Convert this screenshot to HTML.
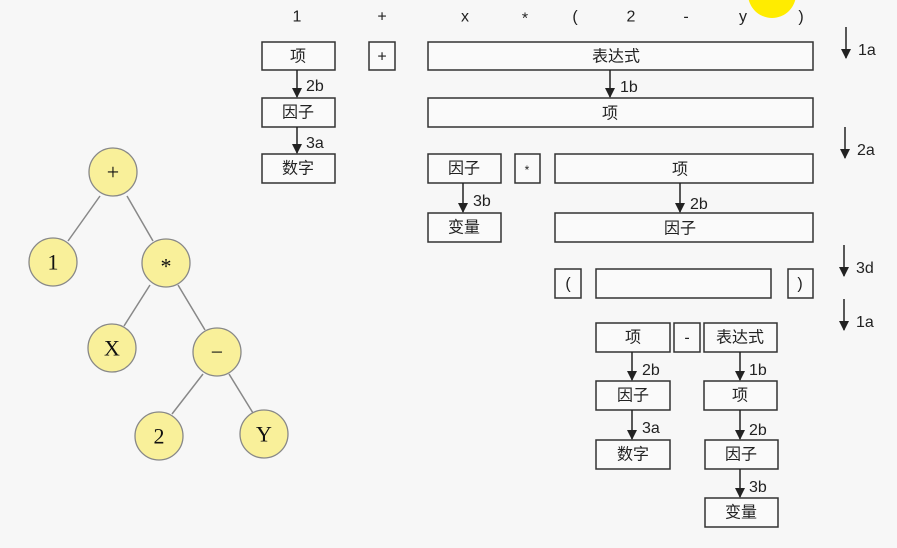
<!DOCTYPE html>
<html><head><meta charset="utf-8"><style>
body{margin:0;width:897px;height:548px;background:#f7f7f7;overflow:hidden}
svg{display:block}
text{font-family:"Liberation Sans","Noto Sans CJK SC",sans-serif;font-size:16px;fill:#222}
.b{fill:#fafafa;stroke:#333;stroke-width:1.5}
.t{text-anchor:middle;dominant-baseline:central}
.c{fill:#f9f09a;stroke:#888;stroke-width:1.3}
.ct{font-family:"Liberation Serif",serif;font-size:22px;text-anchor:middle;dominant-baseline:central;fill:#111}
.l{stroke:#888;stroke-width:1.5}
</style></head><body>
<svg width="897" height="548" viewBox="0 0 897 548">
<defs><marker id="a" markerWidth="10" markerHeight="10" refX="9" refY="5" orient="auto" markerUnits="userSpaceOnUse"><path d="M0,0 L10,5 L0,10 z" fill="#222"/></marker></defs>
<circle cx="772" cy="-6" r="24" fill="#ffec00"/>
<text class="t" x="297" y="17">1</text><text class="t" x="382" y="17">+</text><text class="t" x="465" y="17">x</text><text class="t" x="525" y="19">*</text><text class="t" x="575" y="17">(</text><text class="t" x="631" y="17">2</text><text class="t" x="686" y="17">-</text><text class="t" x="743" y="17">y</text><text class="t" x="801" y="17">)</text>
<rect class="b" x="262" y="42" width="73" height="28"/><text class="t" x="298" y="57">项</text>
<rect class="b" x="369" y="42" width="26" height="28"/><text class="t" x="382" y="57">+</text>
<rect class="b" x="428" y="42" width="385" height="28"/><text class="t" x="616" y="57">表达式</text>
<rect class="b" x="262" y="98" width="73" height="29"/><text class="t" x="298" y="113">因子</text>
<rect class="b" x="428" y="98" width="385" height="29"/><text class="t" x="610" y="114">项</text>
<rect class="b" x="262" y="154" width="73" height="29"/><text class="t" x="298" y="169">数字</text>
<rect class="b" x="428" y="154" width="73" height="29"/><text class="t" x="464" y="169">因子</text>
<rect class="b" x="515" y="154" width="25" height="29"/><text class="t" x="527" y="170" style="font-size:12px">*</text>
<rect class="b" x="555" y="154" width="258" height="29"/><text class="t" x="680" y="170">项</text>
<rect class="b" x="428" y="213" width="73" height="29"/><text class="t" x="464" y="228">变量</text>
<rect class="b" x="555" y="213" width="258" height="29"/><text class="t" x="680" y="229">因子</text>
<rect class="b" x="555" y="269" width="26" height="29"/><text class="t" x="568" y="284">(</text>
<rect class="b" x="596" y="269" width="175" height="29"/>
<rect class="b" x="788" y="269" width="25" height="29"/><text class="t" x="800" y="284">)</text>
<rect class="b" x="596" y="323" width="74" height="29"/><text class="t" x="633" y="338">项</text>
<rect class="b" x="674" y="323" width="26" height="29"/><text class="t" x="687" y="338">-</text>
<rect class="b" x="704" y="323" width="73" height="29"/><text class="t" x="740" y="338">表达式</text>
<rect class="b" x="596" y="381" width="74" height="29"/><text class="t" x="633" y="396">因子</text>
<rect class="b" x="704" y="381" width="73" height="29"/><text class="t" x="740" y="396">项</text>
<rect class="b" x="596" y="440" width="74" height="29"/><text class="t" x="633" y="455">数字</text>
<rect class="b" x="705" y="440" width="73" height="29"/><text class="t" x="741" y="455">因子</text>
<rect class="b" x="705" y="498" width="73" height="29"/><text class="t" x="741" y="513">变量</text>
<g stroke="#222" stroke-width="1.5" marker-end="url(#a)">
<line x1="297" y1="70" x2="297" y2="97"/><line x1="297" y1="127" x2="297" y2="153"/>
<line x1="610" y1="70" x2="610" y2="97"/><line x1="463" y1="183" x2="463" y2="212"/>
<line x1="680" y1="183" x2="680" y2="212"/>
<line x1="632" y1="352" x2="632" y2="380"/><line x1="632" y1="410" x2="632" y2="439"/>
<line x1="740" y1="352" x2="740" y2="380"/><line x1="740" y1="410" x2="740" y2="439"/>
<line x1="740" y1="469" x2="740" y2="497"/>
<line x1="846" y1="27" x2="846" y2="58"/><line x1="845" y1="127" x2="845" y2="158"/>
<line x1="844" y1="245" x2="844" y2="276"/><line x1="844" y1="299" x2="844" y2="330"/>
</g>
<text x="306" y="91">2b</text><text x="306" y="148">3a</text>
<text x="620" y="92">1b</text><text x="473" y="206">3b</text><text x="690" y="209">2b</text>
<text x="642" y="375">2b</text><text x="642" y="433">3a</text>
<text x="749" y="375">1b</text><text x="749" y="435">2b</text><text x="749" y="492">3b</text>
<text x="858" y="55">1a</text><text x="857" y="155">2a</text><text x="856" y="273">3d</text><text x="856" y="327">1a</text>
<line class="l" x1="100" y1="196" x2="68" y2="241"/><line class="l" x1="127" y1="196" x2="153" y2="241"/>
<line class="l" x1="150" y1="285" x2="124" y2="326"/><line class="l" x1="178" y1="285" x2="205" y2="330"/>
<line class="l" x1="203" y1="374" x2="172" y2="414"/><line class="l" x1="229" y1="374" x2="253" y2="413"/>
<circle class="c" cx="113" cy="172" r="24"/><text class="ct" x="113" y="172">+</text>
<circle class="c" cx="53" cy="262" r="24"/><text class="ct" x="53" y="262">1</text>
<circle class="c" cx="166" cy="263" r="24"/><text class="ct" x="166" y="266">*</text>
<circle class="c" cx="112" cy="348" r="24"/><text class="ct" x="112" y="348">X</text>
<circle class="c" cx="217" cy="352" r="24"/><text class="ct" x="217" y="352">−</text>
<circle class="c" cx="159" cy="436" r="24"/><text class="ct" x="159" y="436">2</text>
<circle class="c" cx="264" cy="434" r="24"/><text class="ct" x="264" y="434">Y</text>
</svg>
</body></html>
